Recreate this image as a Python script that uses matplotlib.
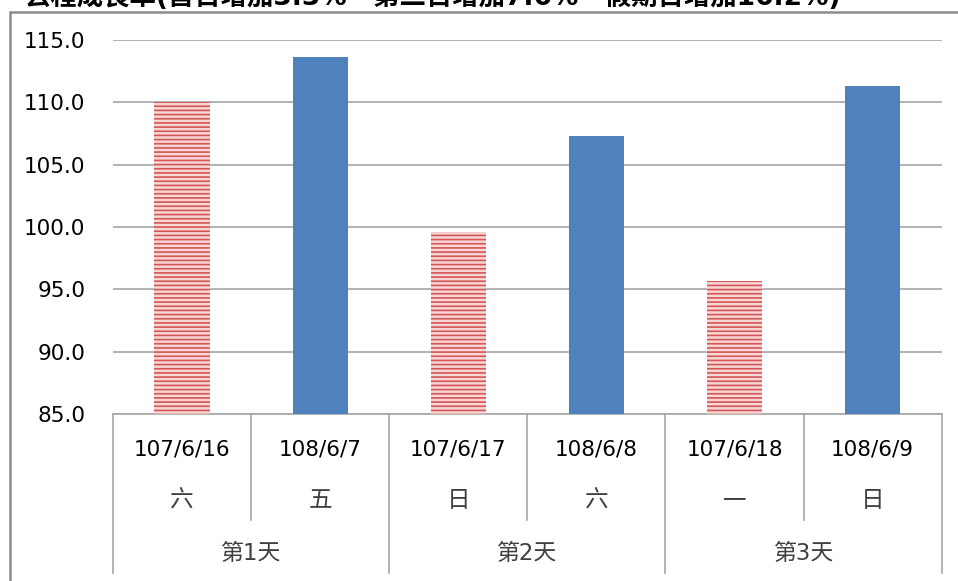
import matplotlib.pyplot as plt
import matplotlib.patches as mpatches
import matplotlib.transforms as mtransforms

plt.rcParams['font.family'] = ['DejaVu Sans', 'Noto Sans CJK TC']
plt.rcParams['hatch.linewidth'] = 1.2

## data
dates = ['107/6/16', '108/6/7', '107/6/17', '108/6/8', '107/6/18', '108/6/9']
weekdays = ['六', '五', '日', '六', '一', '日']
groups = ['第1天', '第2天', '第3天']
values = [110.0, 113.6, 99.6, 107.3, 95.7, 111.3]
last_year = [True, False, True, False, True, False]   # 107 bars are hatched
title = '去程成長率(首日增加3.3%、第二日增加7.6%、假期日增加16.2%)'

grid_c = '#a6a6a6'
blue = '#4f81bd'
red = '#d55656'

fig = plt.figure(figsize=(9.58, 5.81), dpi=100)
ax = fig.add_axes([0.118, 0.2874, 0.865, 0.6438])

x = list(range(len(values)))
for i in x:
    if last_year[i]:
        ax.bar(i, values[i] - 85, bottom=85, width=0.4, facecolor='#f7d6d6',
               edgecolor=red, hatch='----', linewidth=0, zorder=3)
    else:
        ax.bar(i, values[i] - 85, bottom=85, width=0.4, color=blue, zorder=3)

ax.set_xlim(-0.5, len(values) - 0.5)
ax.set_ylim(85, 115)
ax.set_yticks([85, 90, 95, 100, 105, 110, 115])
ax.set_yticklabels(['%.1f' % v for v in ax.get_yticks()], fontsize=15.5)
ax.tick_params(axis='y', length=0, pad=20)
ax.tick_params(axis='x', length=0, labelbottom=False)
ax.grid(axis='y', color=grid_c, linewidth=1.2, zorder=0)
for s in ['left', 'right', 'top']:
    ax.spines[s].set_visible(False)
ax.spines['bottom'].set_color(grid_c)
ax.spines['bottom'].set_linewidth(1.2)

## multi level category axis
trans = mtransforms.blended_transform_factory(ax.transData, ax.transAxes)
for i in x:
    ax.text(i, -0.096, dates[i], transform=trans, ha='center', va='center', fontsize=15.5)
    ax.text(i, -0.23, weekdays[i], transform=trans, ha='center', va='center',
            fontsize=17, color='#404040')
for g in range(len(groups)):
    ax.text(2 * g + 0.5, -0.372, groups[g], transform=trans, ha='center', va='center',
            fontsize=16.5, color='#404040')
# separators
for i in range(len(values) + 1):
    xb = i - 0.5
    y_end = -0.425 if i % 2 == 0 else -0.283
    ax.plot([xb, xb], [0, y_end], transform=trans, color=grid_c, linewidth=1.2, clip_on=False)

## outer chart border, cut by the picture edge
fig.patches.append(mpatches.Rectangle((10 / 958, -0.05), 1.1, 1 - 12 / 581 + 0.05,
                                      transform=fig.transFigure, fill=False,
                                      edgecolor='#8c8c8c', linewidth=1.8))

## title, mostly cut off at the top like in the source
fig.text(25 / 958, 1 - 5 / 581, title, fontsize=19, fontweight='bold', ha='left', va='baseline')

plt.savefig('out.png', dpi=100)
